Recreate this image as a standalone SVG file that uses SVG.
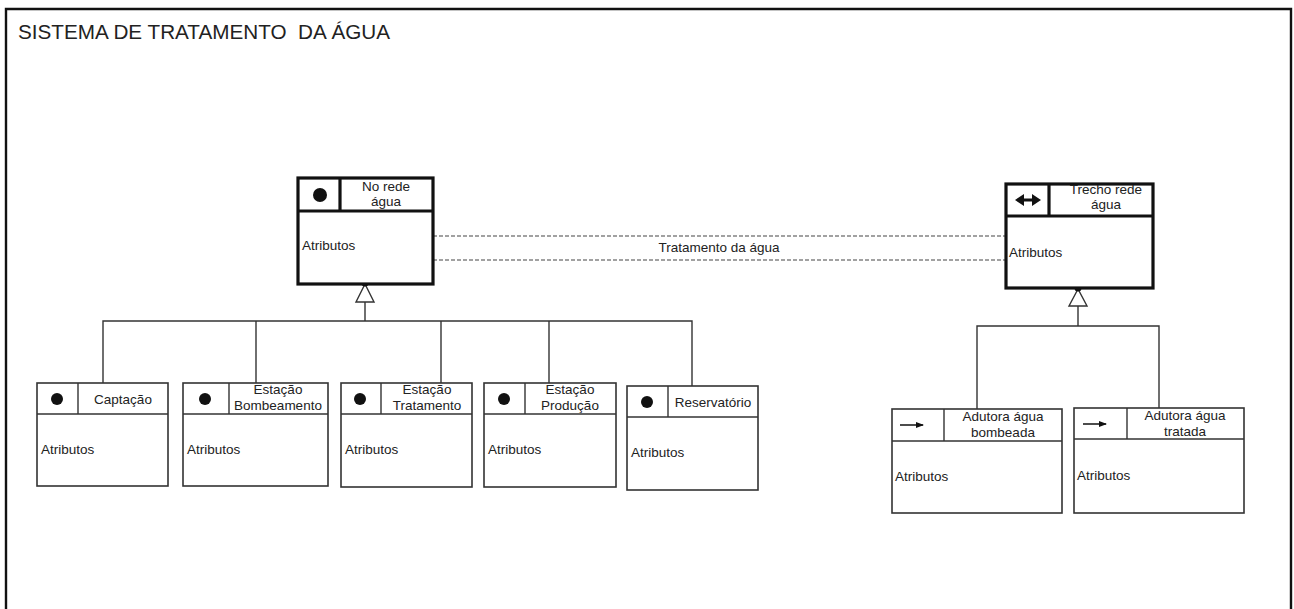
<svg xmlns="http://www.w3.org/2000/svg" width="1294" height="609" viewBox="0 0 1294 609">
<style>
text{font-family:"Liberation Sans",Arial,sans-serif;fill:#222}
.t{font-size:13.5px}
.h{font-size:13.5px;text-anchor:middle}
.box{fill:#fff;stroke:#333;stroke-width:1.6}
.bold{fill:#fff;stroke:#111;stroke-width:3.2}
.ln{fill:none;stroke:#333;stroke-width:1.4}
.dash{fill:none;stroke:#444;stroke-width:1.2;stroke-dasharray:4 2}
</style>
<defs>
<marker id="arr" markerWidth="8" markerHeight="8" refX="7" refY="4" orient="auto" markerUnits="userSpaceOnUse">
<path d="M0,1 L8,4 L0,7 Z" fill="#111"/>
</marker>
</defs>
<rect x="0" y="0" width="1294" height="609" fill="#fff"/>
<path d="M6,620 V9 H1291 V620" fill="none" stroke="#111" stroke-width="2.4"/>
<text x="18" y="39" style="font-size:20.7px;white-space:pre" xml:space="preserve">SISTEMA DE TRATAMENTO  DA ÁGUA</text>

<g id="connectors">
<line class="dash" x1="433" y1="236" x2="1005" y2="236"/>
<line class="dash" x1="433" y1="260" x2="1005" y2="260"/>
<text x="719" y="252" class="h">Tratamento da água</text>
<polyline class="ln" points="103,383 103,321 692,321 692,386"/>
<line class="ln" x1="256" y1="321" x2="256" y2="383"/>
<line class="ln" x1="441" y1="321" x2="441" y2="383"/>
<line class="ln" x1="549" y1="321" x2="549" y2="383"/>
<line class="ln" x1="365" y1="302" x2="365" y2="321"/>
<polygon points="365,284 356,302 374,302" fill="#fff" stroke="#333" stroke-width="1.4"/>
<circle cx="365" cy="283" r="3.5" fill="#111"/>
<polyline class="ln" points="977,409 977,326 1159,326 1159,408"/>
<line class="ln" x1="1078" y1="306" x2="1078" y2="326"/>
<polygon points="1078,289 1069,306 1087,306" fill="#fff" stroke="#333" stroke-width="1.4"/>
<circle cx="1078" cy="288" r="3.5" fill="#111"/>
</g>

<g id="no-rede-agua">
<rect class="bold" x="298" y="178" width="135" height="106"/>
<line x1="298" y1="211" x2="433" y2="211" stroke="#111" stroke-width="3.2"/>
<line x1="340" y1="178" x2="340" y2="211" stroke="#111" stroke-width="3.2"/>
<circle cx="320" cy="195" r="7" fill="#111"/>
<text x="386" y="191" class="h">No rede</text>
<text x="386" y="206" class="h">água</text>
<text x="302" y="250" class="t">Atributos</text>
</g>

<g id="trecho-rede-agua">
<rect class="bold" x="1006" y="184" width="147" height="104"/>
<line x1="1006" y1="216" x2="1153" y2="216" stroke="#111" stroke-width="3.2"/>
<line x1="1049" y1="184" x2="1049" y2="216" stroke="#111" stroke-width="3.2"/>
<path d="M1015,200 L1024,194 L1024,206 Z M1041,200 L1032,194 L1032,206 Z" fill="#111"/>
<line x1="1022" y1="200" x2="1034" y2="200" stroke="#111" stroke-width="3"/>
<text x="1106" y="194" class="h">Trecho rede</text>
<text x="1106" y="209" class="h">água</text>
<text x="1009" y="257" class="t">Atributos</text>
</g>

<g id="captacao">
<rect class="box" x="37" y="383" width="131" height="103"/>
<line class="ln" x1="37" y1="414" x2="168" y2="414"/>
<line class="ln" x1="78" y1="383" x2="78" y2="414"/>
<circle cx="57" cy="399" r="6" fill="#111"/>
<text x="123" y="404" class="h">Captação</text>
<text x="41" y="454" class="t">Atributos</text>
</g>

<g id="estacao-bombeamento">
<rect class="box" x="183" y="383" width="145" height="103"/>
<line class="ln" x1="183" y1="414" x2="328" y2="414"/>
<line class="ln" x1="229" y1="383" x2="229" y2="414"/>
<circle cx="205" cy="399" r="6" fill="#111"/>
<text x="278" y="394" class="h">Estação</text>
<text x="278" y="410" class="h">Bombeamento</text>
<text x="187" y="454" class="t">Atributos</text>
</g>

<g id="estacao-tratamento">
<rect class="box" x="341" y="383" width="131" height="104"/>
<line class="ln" x1="341" y1="414" x2="472" y2="414"/>
<line class="ln" x1="381" y1="383" x2="381" y2="414"/>
<circle cx="360" cy="399" r="6" fill="#111"/>
<text x="427" y="394" class="h">Estação</text>
<text x="427" y="410" class="h">Tratamento</text>
<text x="345" y="454" class="t">Atributos</text>
</g>

<g id="estacao-producao">
<rect class="box" x="484" y="383" width="132" height="104"/>
<line class="ln" x1="484" y1="414" x2="616" y2="414"/>
<line class="ln" x1="525" y1="383" x2="525" y2="414"/>
<circle cx="504" cy="399" r="6" fill="#111"/>
<text x="570" y="394" class="h">Estação</text>
<text x="570" y="410" class="h">Produção</text>
<text x="488" y="454" class="t">Atributos</text>
</g>

<g id="reservatorio">
<rect class="box" x="627" y="386" width="131" height="104"/>
<line class="ln" x1="627" y1="417" x2="758" y2="417"/>
<line class="ln" x1="668" y1="386" x2="668" y2="417"/>
<circle cx="647" cy="402" r="6" fill="#111"/>
<text x="713" y="407" class="h">Reservatório</text>
<text x="631" y="457" class="t">Atributos</text>
</g>

<g id="adutora-bombeada">
<rect class="box" x="892" y="409" width="170" height="104"/>
<line class="ln" x1="892" y1="441" x2="1062" y2="441"/>
<line class="ln" x1="944" y1="409" x2="944" y2="441"/>
<line x1="900" y1="425" x2="923" y2="425" stroke="#111" stroke-width="1.5" marker-end="url(#arr)"/>
<text x="1003" y="421" class="h">Adutora água</text>
<text x="1003" y="437" class="h">bombeada</text>
<text x="895" y="481" class="t">Atributos</text>
</g>

<g id="adutora-tratada">
<rect class="box" x="1074" y="408" width="170" height="105"/>
<line class="ln" x1="1074" y1="439" x2="1244" y2="439"/>
<line class="ln" x1="1127" y1="408" x2="1127" y2="439"/>
<line x1="1083" y1="424" x2="1106" y2="424" stroke="#111" stroke-width="1.5" marker-end="url(#arr)"/>
<text x="1185" y="420" class="h">Adutora água</text>
<text x="1185" y="436" class="h">tratada</text>
<text x="1077" y="480" class="t">Atributos</text>
</g>
</svg>
